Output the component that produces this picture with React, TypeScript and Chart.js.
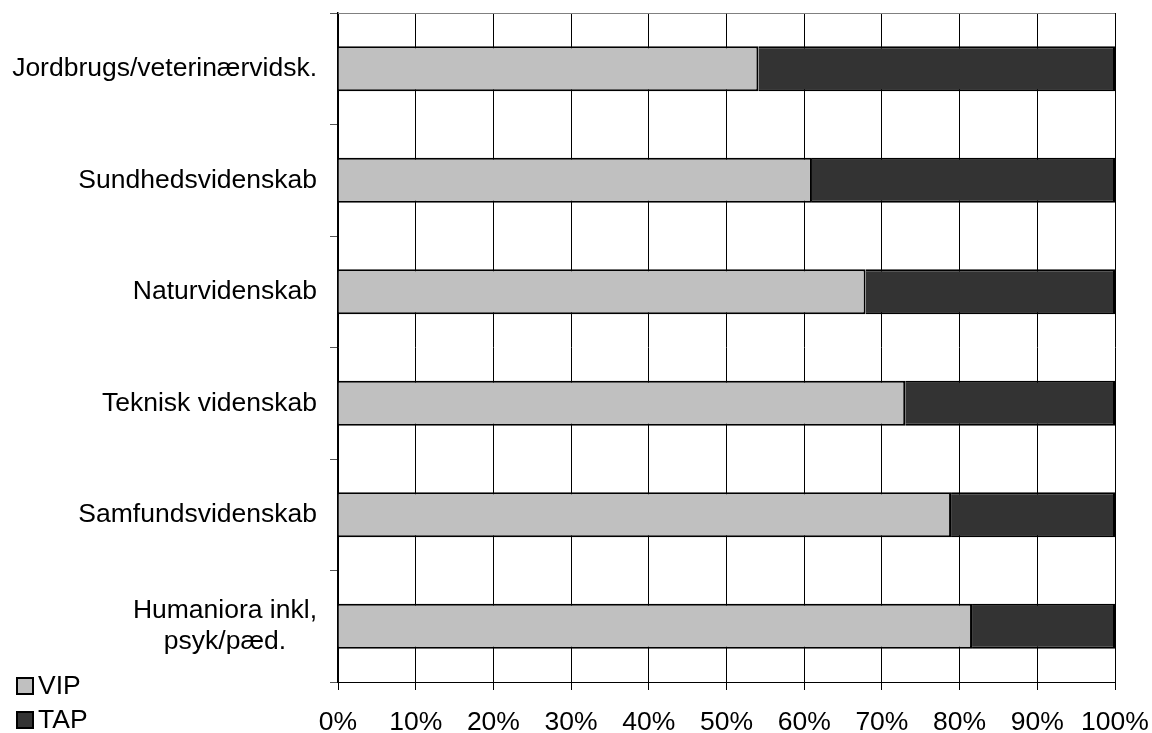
import React, { useEffect, useRef } from "react";
import { Chart, registerables } from "chart.js";

Chart.register(...registerables);

const categories: (string | string[])[] = [
  "Jordbrugs/veterinærvidsk.",
  "Sundhedsvidenskab",
  "Naturvidenskab",
  "Teknisk videnskab",
  "Samfundsvidenskab",
  ["Humaniora inkl,", "psyk/pæd."],
];
const vipValues = [54.1, 61.0, 67.9, 73.0, 78.9, 81.6];
const tapValues = [45.9, 39.0, 32.1, 27.0, 21.1, 18.4];
const seriesNames = ["VIP", "TAP"];
const seriesColors = ["#C0C0C0", "#333333"];
const xTicks = [0, 10, 20, 30, 40, 50, 60, 70, 80, 90, 100];

const FONT = "Arial, 'Liberation Sans', sans-serif";
const FS = 26.5;

const customPlugin = {
  id: "custom",
  afterDraw(chart: any) {
    const ctx = chart.ctx;
    const ca = chart.chartArea;
    const y = chart.scales.y;
    ctx.save();
    // top border
    ctx.strokeStyle = "#808080";
    ctx.lineWidth = 1;
    ctx.beginPath();
    ctx.moveTo(ca.left, ca.top + 0.5);
    ctx.lineTo(ca.right, ca.top + 0.5);
    ctx.stroke();

    // y labels
    ctx.font = `${FS}px ${FONT}`;
    ctx.fillStyle = "#000";
    ctx.textBaseline = "middle";
    ctx.textAlign = "center";
    const lh = 31;
    const rightEdge = y.right - 8 - 13;
    categories.forEach((lab, i) => {
      const lines = Array.isArray(lab) ? lab : [lab];
      const cy = y.getPixelForValue(i);
      const w = Math.max(...lines.map((l) => ctx.measureText(l).width));
      lines.forEach((l, j) => {
        const ly = cy + (j - (lines.length - 1) / 2) * lh;
        ctx.fillText(l, rightEdge - w / 2, ly);
      });
    });

    // legend
    const legendY = [686, 720];
    chart.data.datasets.forEach((ds: any, i: number) => {
      const cy = legendY[i];
      ctx.fillStyle = ds.backgroundColor;
      ctx.fillRect(17, cy - 8, 16, 16);
      ctx.strokeStyle = "#000";
      ctx.lineWidth = 2;
      ctx.strokeRect(17, cy - 8, 16, 16);
      ctx.fillStyle = "#000";
      ctx.textAlign = "left";
      ctx.fillText(ds.label, 38, cy + 1);
    });
    ctx.restore();
  },
};

export default function App() {
  const ref = useRef<HTMLCanvasElement | null>(null);
  useEffect(() => {
    if (!ref.current) return;
    const chart = new Chart(ref.current, {
      type: "bar",
      data: {
        labels: categories,
        datasets: [
          {
            label: seriesNames[0],
            data: vipValues,
            backgroundColor: seriesColors[0],
            borderColor: "#000",
            borderWidth: 2,
            barPercentage: 0.404,
            categoryPercentage: 1,
          },
          {
            label: seriesNames[1],
            data: tapValues,
            backgroundColor: seriesColors[1],
            borderColor: "#000",
            borderWidth: 2,
            barPercentage: 0.404,
            categoryPercentage: 1,
          },
        ],
      },
      options: {
        indexAxis: "y",
        responsive: false,
        animation: false,
        layout: { padding: { top: 13, right: 37, left: 0, bottom: 0 } },
        plugins: {
          legend: { display: false },
          tooltip: { enabled: false },
          title: { display: false },
        },
        scales: {
          x: {
            stacked: true,
            min: 0,
            max: 100,
            afterBuildTicks: (scale: any) => {
              scale.ticks = xTicks.map((v) => ({ value: v }));
            },
            afterFit: (scale: any) => {
              scale.height = 51;
              scale.paddingLeft = 0;
              scale.paddingRight = 0;
            },
            ticks: {
              callback: (v: any) => `${v}%`,
              font: { family: FONT, size: FS },
              color: "#000",
              padding: 17,
              maxRotation: 0,
              autoSkip: false,
            },
            grid: {
              color: "#000",
              lineWidth: 1,
              tickLength: 8,
              drawTicks: true,
            },
            border: { display: true, color: "#000", width: 1 },
          },
          y: {
            stacked: true,
            afterFit: (scale: any) => {
              scale.width = 338;
              scale.paddingTop = 0;
              scale.paddingBottom = 0;
            },
            ticks: { display: false },
            grid: {
              drawOnChartArea: false,
              drawTicks: true,
              tickLength: 8,
              color: "#555",
              offset: true,
            },
            border: { display: true, color: "#000", width: 1.5 },
          },
        },
      },
      plugins: [customPlugin],
    } as any);
    return () => chart.destroy();
  }, []);
  return (
    <div style={{ position: "absolute", left: 0, top: 0, width: 1152, height: 733, background: "#fff" }}>
      <canvas ref={ref} width={1152} height={733} style={{ width: 1152, height: 733, display: "block" }} />
    </div>
  );
}
